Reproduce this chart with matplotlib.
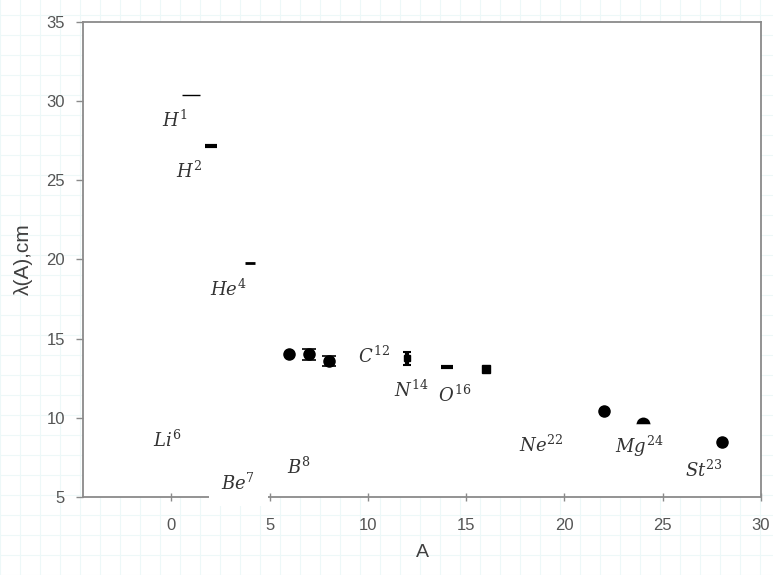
import matplotlib
matplotlib.use("Agg")
import matplotlib.pyplot as plt
import numpy as np

plt.rcParams['font.family'] = ['Liberation Sans', 'DejaVu Sans']
plt.rcParams['mathtext.fontset'] = 'dejavuserif'

# Data
A_round = [6, 22, 28]
lam_round = [14.0, 10.4, 8.5]

A_round_err = [7, 8]
lam_round_err = [14.0, 13.6]
err_round = [0.35, 0.3]

A_half = [24]
lam_half = [9.6]

A_small = [12]
lam_small = [13.75]
err_small = [0.4]

A_dash = [1, 2, 4, 14, 16]
lam_dash = [30.4, 27.2, 19.8, 13.2, 13.1]

labels = [r'$H^{1}$', r'$H^{2}$', r'$He^{4}$', r'$Li^{6}$', r'$Be^{7}$', r'$B^{8}$',
          r'$C^{12}$', r'$N^{14}$', r'$O^{16}$', r'$Ne^{22}$', r'$Mg^{24}$', r'$St^{23}$']
label_x = [0.15, 0.9, 2.9, -0.2, 3.4, 6.5, 10.3, 12.2, 14.4, 18.8, 23.8, 27.1]
label_y = [28.8, 25.6, 18.1, 8.6, 5.9, 6.9, 13.9, 11.75, 11.4, 8.3, 8.2, 6.7]

xlim = (-4.5, 30)
ylim = (5, 35)
xticks = [0, 5, 10, 15, 20, 25, 30]
yticks = [5, 10, 15, 20, 25, 30, 35]

fig = plt.figure(figsize=(7.73, 5.75), dpi=100)

# graph-paper background
bg = fig.add_axes([0, 0, 1, 1], zorder=-10)
bg.set_xlim(0, 773)
bg.set_ylim(0, 575)
for v in np.arange(0, 773, 20):
    bg.axvline(v, color='#edf8f8', lw=0.8)
for v in np.arange(0, 575, 20):
    bg.axhline(v, color='#edf8f8', lw=0.8)
bg.axis('off')

ax = fig.add_axes([0.1074, 0.1357, 0.8771, 0.826])
ax.set_facecolor('white')
ax.set_xlim(*xlim)
ax.set_ylim(*ylim)
ax.set_xticks(xticks)
ax.set_yticks(yticks)

for s in ax.spines.values():
    s.set_color('#8a8a8a')
    s.set_linewidth(1.3)

ax.tick_params(axis='y', direction='out', length=5, width=1, color='#8a8a8a',
               labelsize=12, labelcolor='#555555', pad=8)
ax.tick_params(axis='x', direction='inout', length=6, width=1, color='#8a8a8a',
               labelsize=12, labelcolor='#555555', pad=12)

ax.plot(A_round, lam_round, 'o', color='black', ms=8, zorder=4)
ax.errorbar(A_round_err, lam_round_err, yerr=err_round, fmt='o', color='black', ms=8,
            capsize=5, elinewidth=1.2, capthick=1.2, zorder=4)
ax.plot(A_half, lam_half, 'o', color='black', ms=10, fillstyle='top',
        markerfacecoloralt='white', markeredgewidth=0, zorder=4)
ax.errorbar(A_small, lam_small, yerr=err_small, fmt='s', color='black', ms=4,
            capsize=3, elinewidth=3, capthick=1.5, zorder=4)
ax.plot(A_dash[:1], lam_dash[:1], '_', color='black', ms=13, mew=1.0, zorder=4)
ax.plot(A_dash[1:2], lam_dash[1:2], '_', color='black', ms=8, mew=3, zorder=4)
ax.plot(A_dash[2:3], lam_dash[2:3], '_', color='black', ms=7, mew=2, zorder=4)
ax.plot(A_dash[3:4], lam_dash[3:4], '_', color='black', ms=8, mew=3, zorder=4)
ax.plot(A_dash[4:5], lam_dash[4:5], 's', color='black', ms=6, zorder=4)

for t, x, y in zip(labels, label_x, label_y):
    kw = {}
    if t == r'$Be^{7}$':
        kw['bbox'] = dict(facecolor='white', edgecolor='none', pad=9)
    ax.text(x, y, t, fontsize=13, color='#333333', ha='center', va='center',
            clip_on=False, zorder=5, **kw)

ax.set_xlabel('A', fontsize=14, color='#404040', labelpad=8)
ax.set_ylabel('λ(A),cm', fontsize=15, color='#404040', labelpad=10)

fig.savefig('out.png', dpi=100, facecolor='white')
